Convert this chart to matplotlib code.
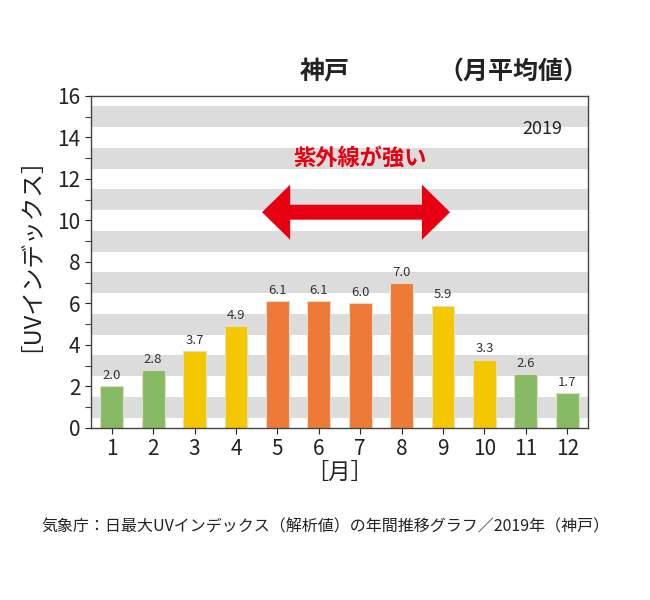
import matplotlib
matplotlib.use("Agg")
import matplotlib.pyplot as plt
from matplotlib.patches import Polygon

plt.rcParams['font.family'] = ['Noto Sans CJK JP', 'DejaVu Sans']

months = list(range(1, 13))
uv_values = [2.0, 2.8, 3.7, 4.9, 6.1, 6.1, 6.0, 7.0, 5.9, 3.3, 2.6, 1.7]
bar_colors = ['#86bb64', '#86bb64', '#f5c700', '#f5c700', '#ed7a36', '#ed7a36',
              '#ed7a36', '#ed7a36', '#f5c700', '#f5c700', '#86bb64', '#86bb64']
y_ticks = list(range(0, 17, 2))
band_starts = [0.5, 2.5, 4.5, 6.5, 8.5, 10.5, 12.5, 14.5]

fig = plt.figure(figsize=(6.5, 6), dpi=100)
ax = fig.add_axes([0.14, 0.2867, 0.7646, 0.5533])

for b in band_starts:
    ax.axhspan(b, b + 1, color='#dcdcdc', lw=0, zorder=0)

ax.bar(months, uv_values, width=0.55, color=bar_colors, edgecolor='#e3dcc8',
       linewidth=0.8, zorder=2)
for m, v in zip(months, uv_values):
    ax.text(m, v + 0.2, f"{v:.1f}", ha='center', va='bottom', fontsize=9.5,
            color='#333333', zorder=3)

ax.set_xlim(0.5, 12.5)
ax.set_ylim(0, 16)
ax.set_xticks(months)
ax.set_yticks(y_ticks)
ax.set_yticks(range(1, 16, 2), minor=True)
ax.tick_params(axis='both', labelsize=15, colors='#222222', length=4, width=0.8)
ax.tick_params(axis='y', which='minor', length=4, width=0.8, colors='#444444')
for s in ax.spines.values():
    s.set_color('#444444')
    s.set_linewidth(1.0)

ax.set_ylabel('［UVインデックス］', fontsize=17, color='#222222')
ax.yaxis.set_label_coords(-0.123, 0.56)
ax.set_xlabel('［月］', fontsize=16, labelpad=0, color='#222222')

# double headed arrow
x0, x1, yc = 4.63, 9.17, 10.4
hl, tw, hw = 0.68, 0.36, 1.33
pts = [(x0, yc), (x0 + hl, yc + hw), (x0 + hl, yc + tw), (x1 - hl, yc + tw),
       (x1 - hl, yc + hw), (x1, yc), (x1 - hl, yc - hw), (x1 - hl, yc - tw),
       (x0 + hl, yc - tw), (x0 + hl, yc - hw)]
ax.add_patch(Polygon(pts, closed=True, color='#e60012', lw=0, zorder=4))
ax.text(7.0, 13.0, '紫外線が強い', ha='center', va='center', fontsize=16,
        color='#e60012', fontweight='bold', zorder=4)
ax.text(11.4, 14.4, '2019', ha='center', va='center', fontsize=13,
        color='#222222', zorder=4)

fig.text(0.5, 0.88, '神戸', ha='center', va='center', fontsize=18,
         fontweight='bold', color='#222222')
fig.text(0.79, 0.88, '（月平均値）', ha='center', va='center', fontsize=18,
         fontweight='bold', color='#222222')
fig.text(0.5, 0.122, '気象庁：日最大UVインデックス（解析値）の年間推移グラフ／2019年（神戸）',
         ha='center', va='center', fontsize=11.5, color='#222222')

fig.savefig('out.png', dpi=100)
